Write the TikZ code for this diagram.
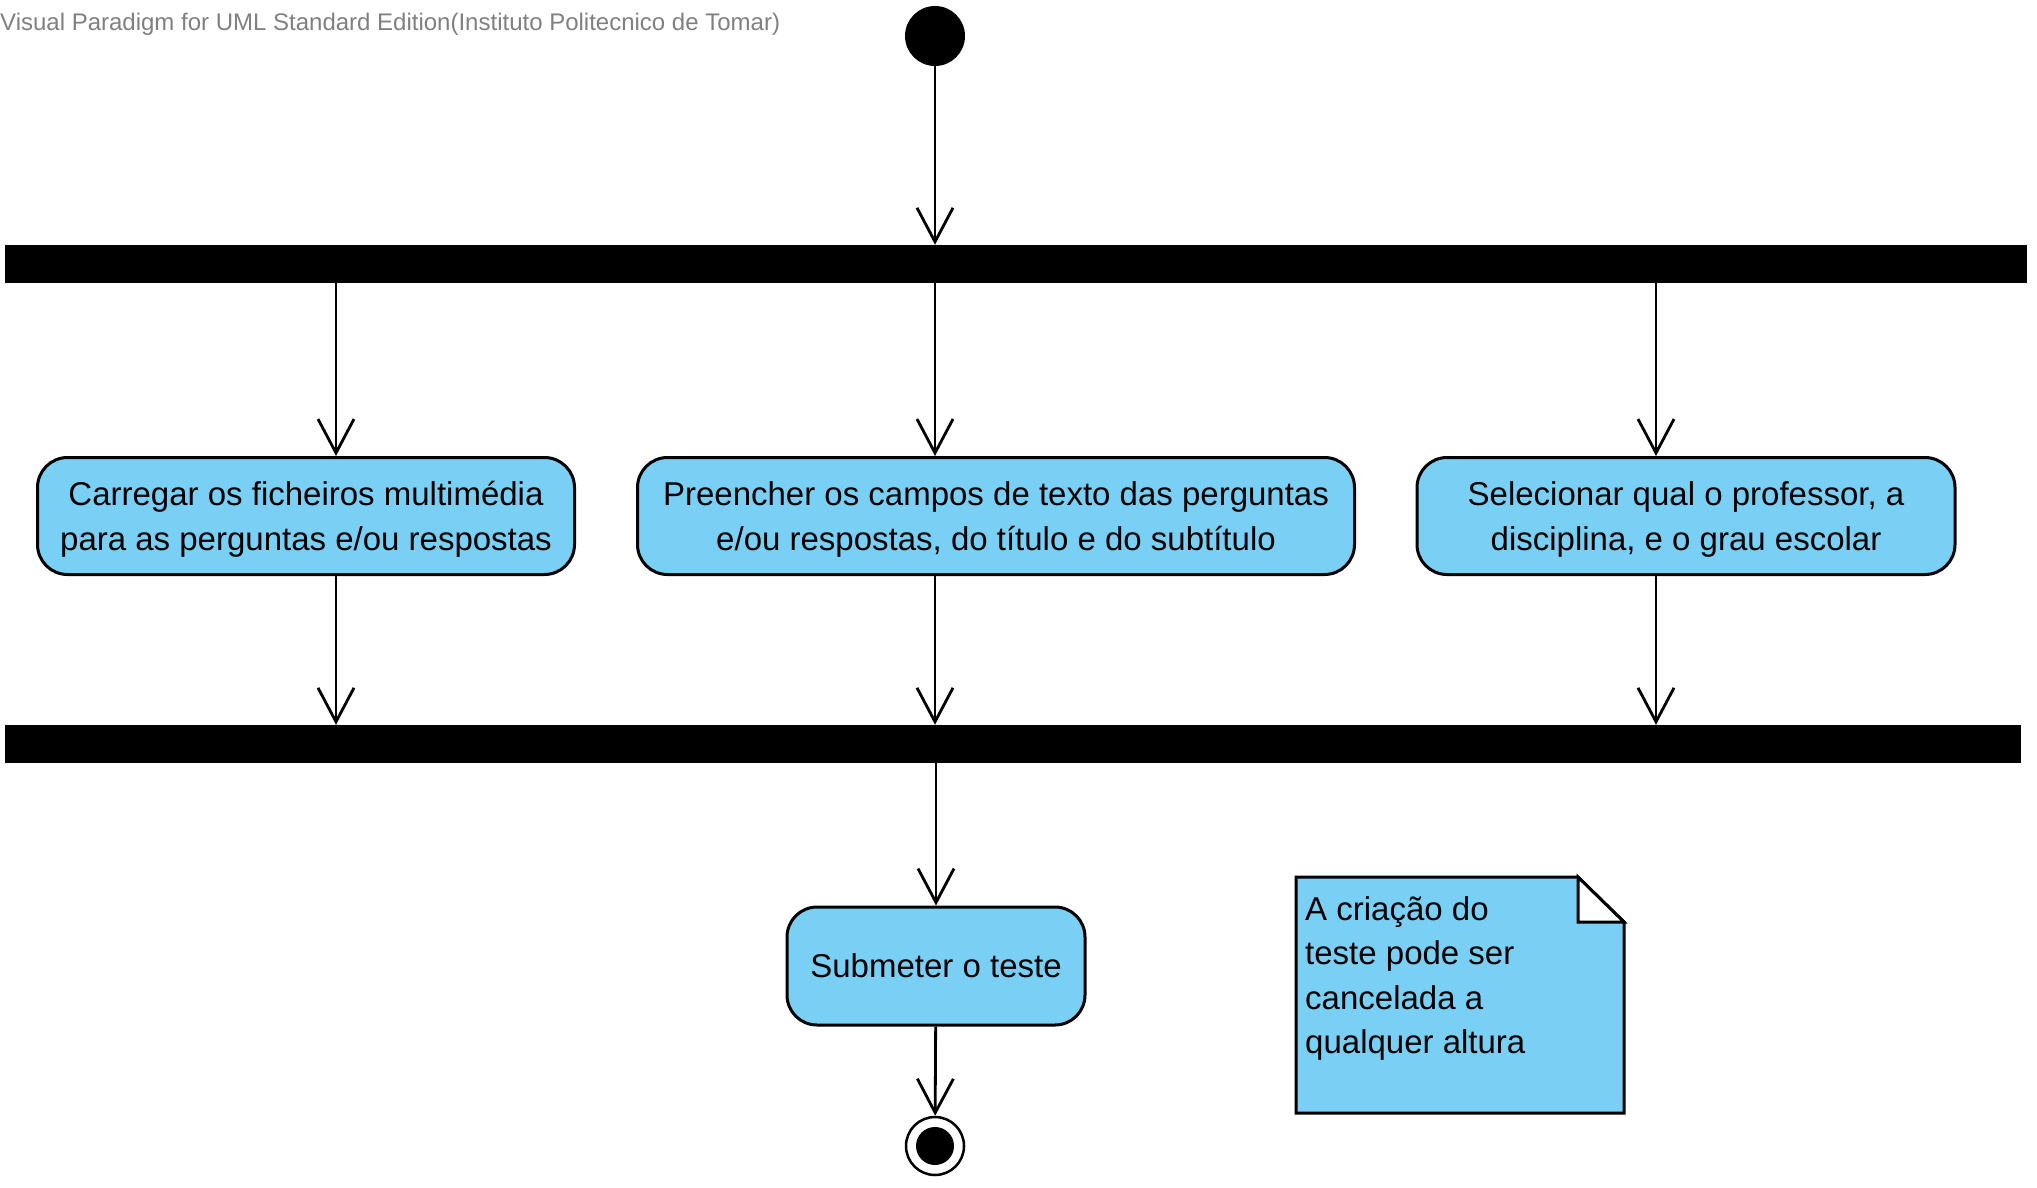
\documentclass[tikz,border=0pt]{standalone}
\usepackage{fontspec}
\setmainfont{Liberation Sans}
\usepackage{tikz}
\usetikzlibrary{arrows.meta}
\definecolor{vpblue}{RGB}{122,207,245}

\begin{document}
\begin{tikzpicture}[x=1pt, y=-1pt,
  act/.style={draw=black, line width=3pt, fill=vpblue, rounded corners=30pt,
              align=center, font=\fontsize{33}{45}\selectfont, inner sep=0pt, text depth=-5pt},
  bar/.style={fill=black, inner sep=0pt, minimum height=38pt},
  arr/.style={-{Straight Barb[length=34pt,width=36pt]}, line width=2.8pt}
]
  \useasboundingbox (0,0) rectangle (2037,1188);

  % Nodes
  \node[anchor=west, text=black!50, font=\fontsize{24}{28}\selectfont, inner sep=0pt] (vp) at (0,24)
    {Visual Paradigm for UML Standard Edition(Instituto Politecnico de Tomar)};
  \node[circle, fill=black, minimum size=60pt, inner sep=0pt] (start) at (935,36) {};
  \node[bar, minimum width=2022pt] (fork) at (1016,264) {};
  \node[act, minimum width=537pt, minimum height=117pt] (act1) at (306,516)
    {Carregar os ficheiros multimédia\\para as perguntas e/ou respostas};
  \node[act, minimum width=717pt, minimum height=117pt] (act2) at (996,516)
    {Preencher os campos de texto das perguntas\\e/ou respostas, do título e do subtítulo};
  \node[act, minimum width=538pt, minimum height=117pt] (act3) at (1686,516)
    {Selecionar qual o professor, a\\disciplina, e o grau escolar};
  \node[bar, minimum width=2016pt] (join) at (1013,744) {};
  \node[act, minimum width=298pt, minimum height=118pt, text depth=0pt] (sub) at (936,966) {Submeter o teste};
  \node[circle, draw=black, line width=2.5pt, fill=white, minimum size=58pt, inner sep=0pt,
        path picture={\fill[black] (path picture bounding box.center) circle (19pt);}] (final) at (935,1146) {};

  \coordinate (c1) at (336,0);
  \coordinate (c2) at (935,0);
  \coordinate (c3) at (1656,0);

  % Note
  \draw[line width=3pt, fill=vpblue] (1296,877) -- (1578,877) -- (1624,922) -- (1624,1113) -- (1296,1113) -- cycle;
  \draw[line width=3pt, fill=white] (1578,877) -- (1578,922) -- (1624,922) -- cycle;
  \node[anchor=north west, align=left, inner sep=0pt, font=\fontsize{33}{44.5}\selectfont] (notetext) at (1305,896)
    {A criação do\\teste pode ser\\cancelada a\\qualquer altura};

  % Paths
  \draw[arr] (start) -- (fork.north -| start);
  \foreach \a/\c in {act1/c1, act2/c2, act3/c3} {
    \draw[arr] (fork.south -| \c) -- (\a.north -| \c);
    \draw[arr] (\a.south -| \c) -- (join.north -| \c);
  }
  \draw[arr] (join.south -| sub) -- (sub);
  \draw[arr] (sub) -- (final);
\end{tikzpicture}
\end{document}
